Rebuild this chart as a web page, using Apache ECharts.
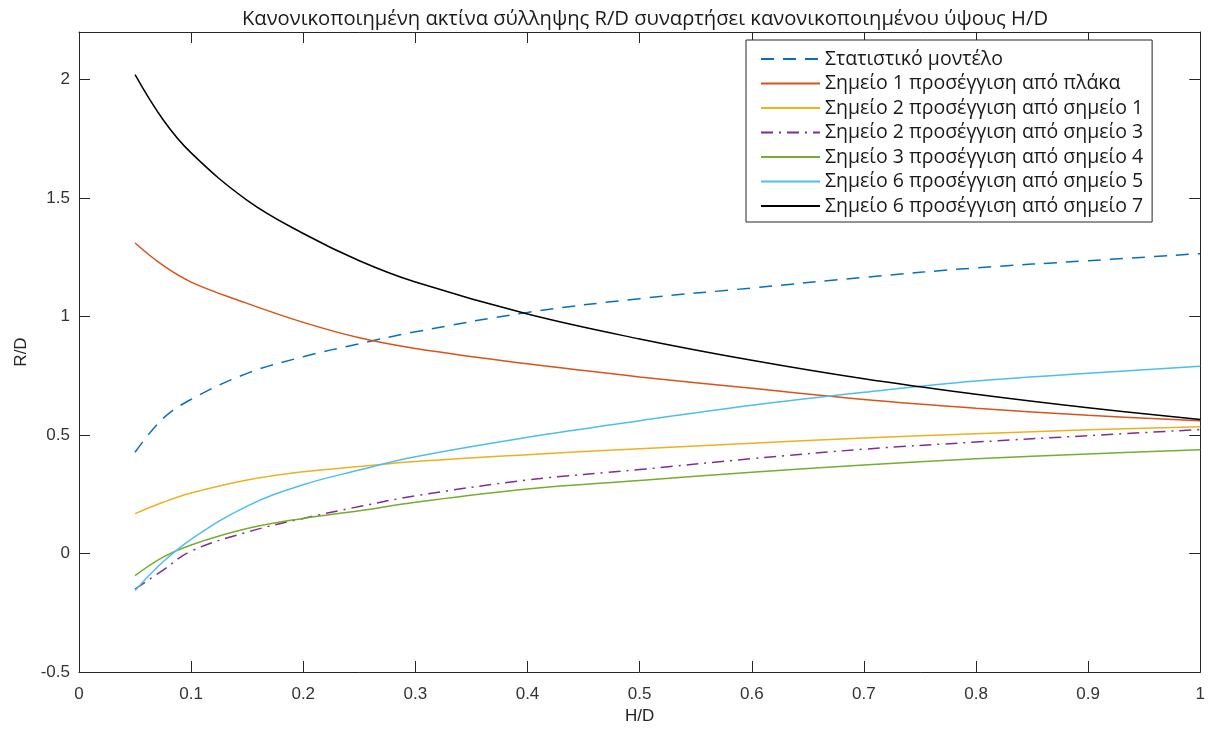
<!DOCTYPE html>
<html>
<head>
<meta charset="utf-8">
<script src="https://cdn.jsdelivr.net/npm/echarts@6/dist/echarts.min.js"></script>
<style>
html,body{margin:0;padding:0;background:#fff;}
#chart{width:1208px;height:733px;}
</style>
</head>
<body>
<div id="chart"></div>
<script>
// H/D sample positions
const xValues = [0.05, 0.075, 0.1, 0.15, 0.2, 0.25, 0.3, 0.4, 0.5, 0.6, 0.7, 0.8, 0.9, 1.0];

const seriesNames = [
  'Στατιστικό μοντέλο',
  'Σημείο 1 προσέγγιση από πλάκα',
  'Σημείο 2 προσέγγιση από σημείο 1',
  'Σημείο 2 προσέγγιση από σημείο 3',
  'Σημείο 3 προσέγγιση από σημείο 4',
  'Σημείο 6 προσέγγιση από σημείο 5',
  'Σημείο 6 προσέγγιση από σημείο 7'
];

const statModel  = [0.427, 0.57, 0.65, 0.76, 0.83, 0.885, 0.935, 1.017, 1.075, 1.12, 1.165, 1.205, 1.235, 1.265];
const point1Slab = [1.31, 1.215, 1.145, 1.055, 0.975, 0.91, 0.865, 0.80, 0.745, 0.697, 0.65, 0.613, 0.583, 0.56];
const point2From1 = [0.168, 0.216, 0.255, 0.31, 0.345, 0.367, 0.388, 0.417, 0.442, 0.465, 0.487, 0.505, 0.522, 0.535];
const point2From3 = [-0.15, -0.07, 0.01, 0.09, 0.148, 0.198, 0.243, 0.31, 0.354, 0.40, 0.44, 0.47, 0.497, 0.523];
const point3From4 = [-0.093, -0.015, 0.036, 0.105, 0.148, 0.18, 0.216, 0.272, 0.308, 0.343, 0.373, 0.40, 0.42, 0.438];
const point6From5 = [-0.156, -0.035, 0.06, 0.2, 0.29, 0.352, 0.408, 0.49, 0.56, 0.625, 0.68, 0.728, 0.76, 0.79];
const point6From7 = [2.02, 1.83, 1.69, 1.49, 1.35, 1.235, 1.145, 1.01, 0.905, 0.815, 0.737, 0.672, 0.615, 0.565];

const yTickValues = [-0.5, 0, 0.5, 1, 1.5, 2];

const titleText = 'Κανονικοποιημένη ακτίνα σύλληψης R/D συναρτήσει κανονικοποιημένου ύψους H/D';

const allValues = [statModel, point1Slab, point2From1, point2From3, point3From4, point6From5, point6From7];
const colors = ['#0072BD', '#D95319', '#EDB120', '#7E2F8E', '#77AC30', '#4DBEEE', '#000000'];
const dashes = [[13, 9], 'solid', 'solid', [12, 6, 2, 6], 'solid', 'solid', 'solid'];

const axisColor = '#262626';
const tickFont = { fontFamily: 'Liberation Sans', fontSize: 17, color: '#333333' };

const chart = echarts.init(document.getElementById('chart'), null, { renderer: 'canvas' });

const series = allValues.map((vals, i) => ({
  name: seriesNames[i],
  type: 'line',
  xAxisIndex: 0,
  yAxisIndex: 0,
  data: xValues.map((x, k) => [x, vals[k]]),
  symbol: 'none',
  smooth: 0.4,
  lineStyle: { color: colors[i], width: 1.5, type: dashes[i] },
  itemStyle: { color: colors[i] },
  animation: false,
  z: 2
}));

const option = {
  backgroundColor: '#ffffff',
  animation: false,
  title: {
    text: titleText,
    left: 640,
    top: 4,
    textAlign: 'center',
    textStyle: { fontFamily: 'Open Sans', fontSize: 20.2, fontWeight: 'normal', color: '#1a1a1a' }
  },
  legend: {
    orient: 'vertical',
    left: 746,
    top: 40,
    padding: [9, 9, 6, 14],
    itemWidth: 59,
    itemHeight: 20,
    itemGap: 4.5,
    backgroundColor: '#ffffff',
    borderColor: axisColor,
    borderWidth: 1,
    itemStyle: { opacity: 0, borderWidth: 0 },
    textStyle: { fontFamily: 'Open Sans', fontSize: 19.5, color: '#1a1a1a' },
    data: seriesNames,
    selectedMode: false
  },
  grid: { left: 79, right: 7, top: 32, bottom: 61, containLabel: false },
  xAxis: [
    {
      type: 'value', position: 'bottom', min: 0, max: 1, interval: 0.1,
      name: 'H/D', nameLocation: 'middle', nameGap: 36,
      nameTextStyle: { fontFamily: 'Liberation Sans', fontSize: 17, color: axisColor },
      axisLine: { show: true, onZero: false, lineStyle: { color: axisColor, width: 1 } },
      axisTick: { show: true, inside: true, length: 11, lineStyle: { color: axisColor } },
      axisLabel: Object.assign({ margin: 14 }, tickFont),
      splitLine: { show: false }
    },
    {
      type: 'value', position: 'top', min: 0, max: 1, interval: 0.1,
      axisLine: { show: true, onZero: false, lineStyle: { color: axisColor, width: 1 } },
      axisTick: { show: true, inside: true, length: 11, lineStyle: { color: axisColor } },
      axisLabel: { show: false },
      splitLine: { show: false }
    }
  ],
  yAxis: [
    {
      type: 'value', position: 'left', min: -0.5, max: 2.2, interval: 0.5,
      name: 'R/D', nameLocation: 'middle', nameGap: 40,
      nameTextStyle: { fontFamily: 'Liberation Sans', fontSize: 17, color: axisColor },
      axisLine: { show: true, onZero: false, lineStyle: { color: axisColor, width: 1 } },
      axisTick: { show: true, inside: true, length: 11, customValues: yTickValues, lineStyle: { color: axisColor } },
      axisLabel: Object.assign({ margin: 9, customValues: yTickValues }, tickFont),
      splitLine: { show: false }
    },
    {
      type: 'value', position: 'right', min: -0.5, max: 2.2, interval: 0.5,
      axisLine: { show: true, onZero: false, lineStyle: { color: axisColor, width: 1 } },
      axisTick: { show: true, inside: true, length: 11, customValues: yTickValues, lineStyle: { color: axisColor } },
      axisLabel: { show: false },
      splitLine: { show: false }
    }
  ],
  series: series
};

chart.setOption(option);
</script>
</body>
</html>
